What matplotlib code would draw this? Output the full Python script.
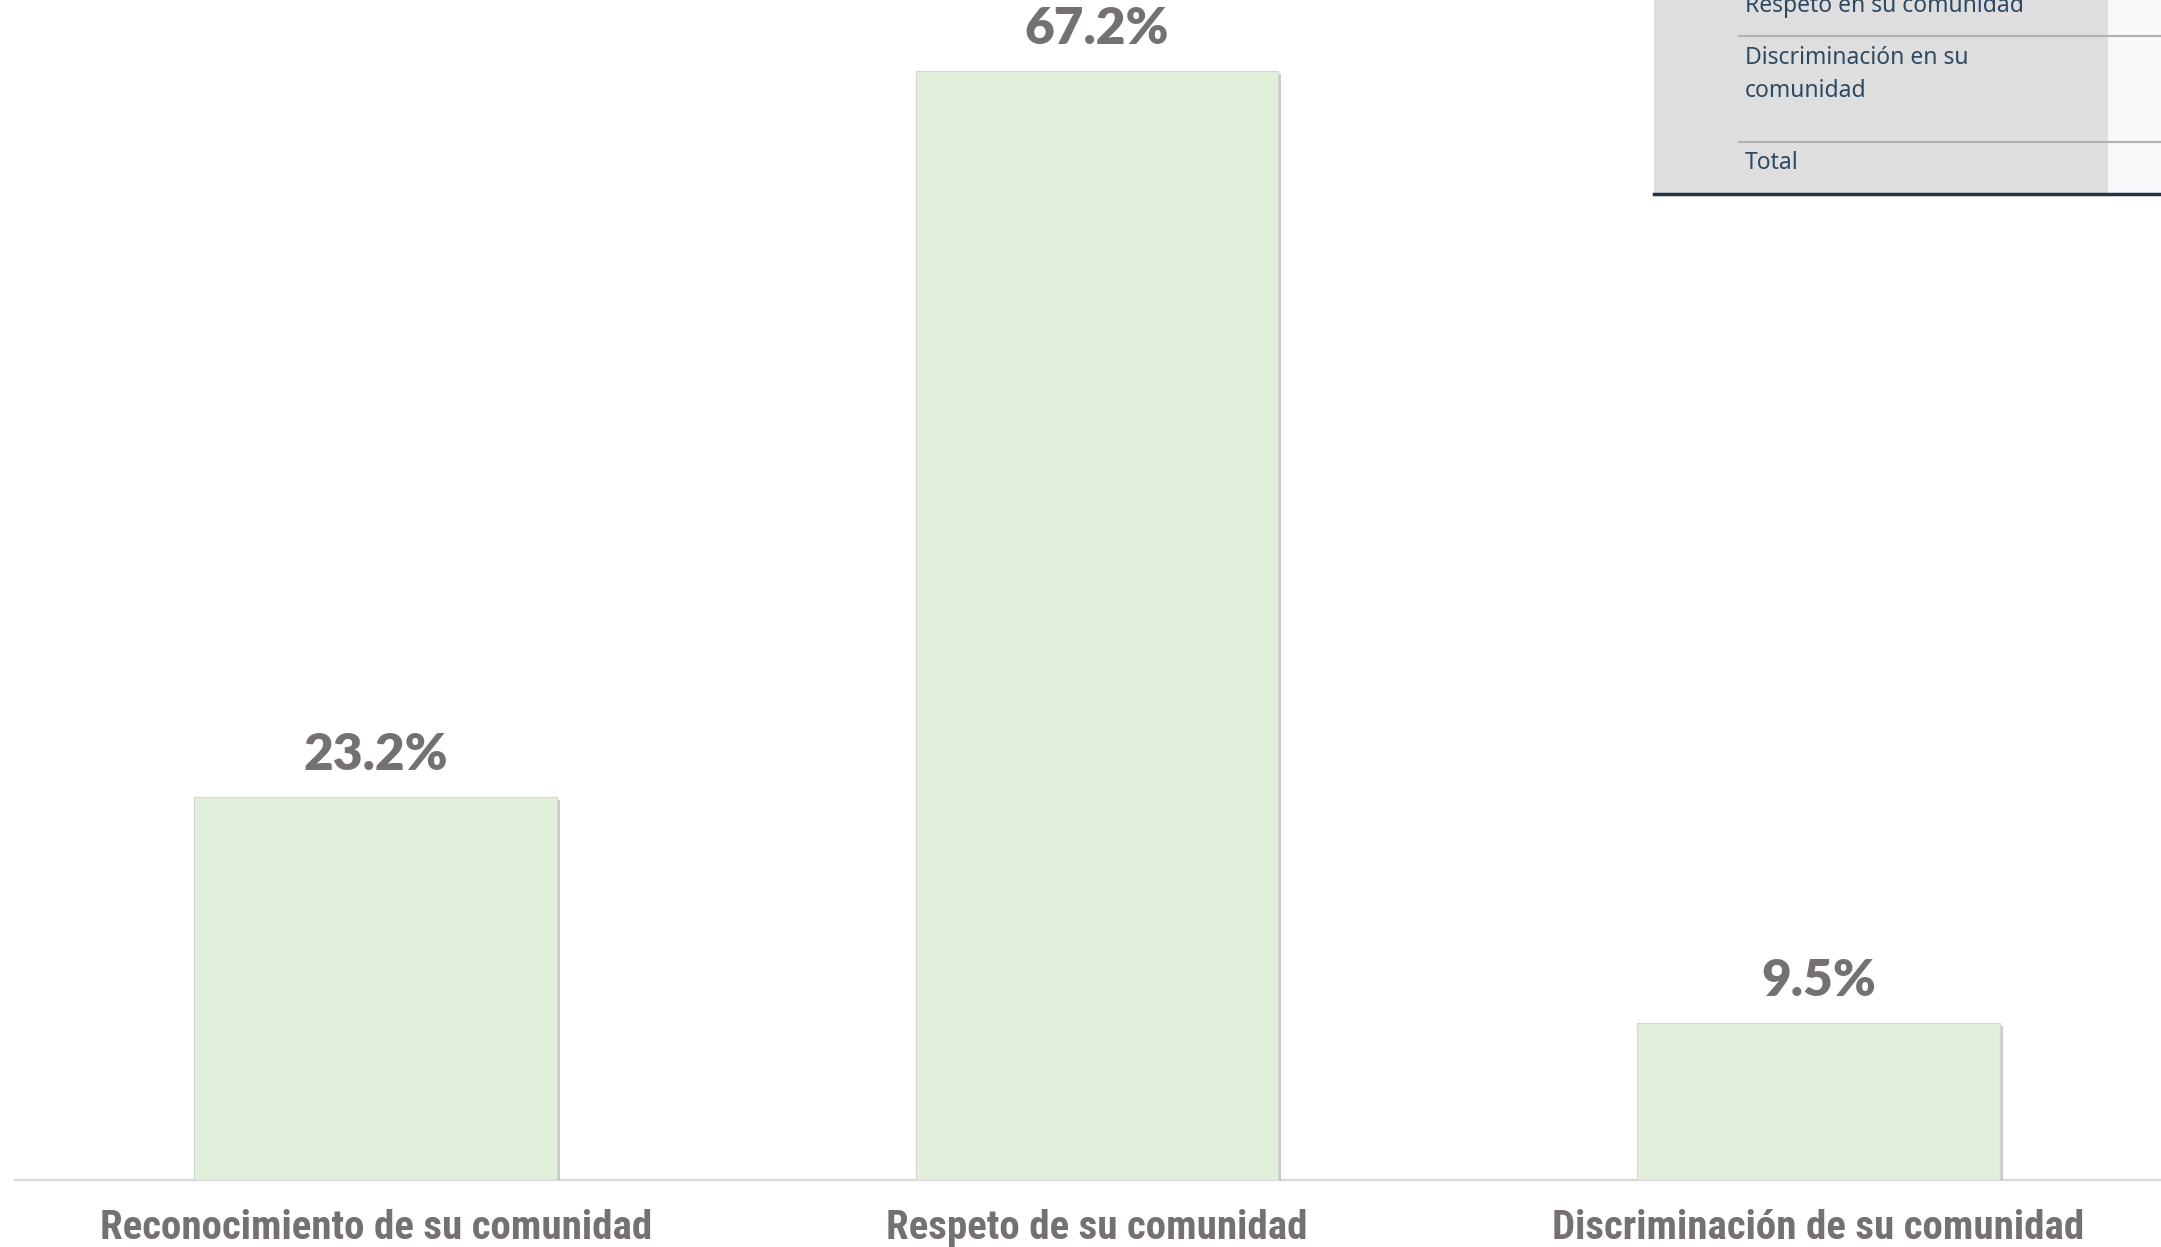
import matplotlib
matplotlib.use("Agg")
import matplotlib.pyplot as plt
from matplotlib.patches import Rectangle
from matplotlib.lines import Line2D
import matplotlib.patheffects as pe

categories = ["Reconocimiento de su comunidad", "Respeto de su comunidad", "Discriminación de su comunidad"]
values = [23.2, 67.2, 9.5]
value_labels = ["23.2%", "67.2%", "9.5%"]
table_rows = ["Respeto en su comunidad", "Discriminación en su\ncomunidad", "Total"]

W, H = 2161, 1247
DPI = 100
fig = plt.figure(figsize=(W / DPI, H / DPI), dpi=DPI)
fig.patch.set_facecolor("white")

def fx(px):
    return px / W

def fy(py):
    return 1 - py / H

base_y = 1180
ax = fig.add_axes([fx(15), fy(base_y), 1 - fx(15), base_y / H])
ax.set_facecolor("none")
ax.set_xlim(-0.5, 2.475)
ax.set_ylim(0, base_y / 16.5)

bar_color = "#E2EFDA"
text_gray = "#767171"
x = list(range(len(categories)))
bars = ax.bar(x, values, width=0.503, color=bar_color, edgecolor="#d4d4d4", linewidth=0.8, zorder=3)
for b in bars:
    b.set_path_effects([pe.withSimplePatchShadow(offset=(2, -2), shadow_rgbFace="#8a8a8a", alpha=0.45)])

for xi, v, lab in zip(x, values, value_labels):
    ax.annotate(lab, (xi, v), xytext=(0, 14), textcoords="offset points",
                ha="center", va="bottom", fontsize=37, fontweight=800,
                color=text_gray, family=["Lato", "DejaVu Sans"])

for s in ["top", "right", "left"]:
    ax.spines[s].set_visible(False)
ax.spines["bottom"].set_color("#D9D9D9")
ax.spines["bottom"].set_linewidth(1.6)
ax.spines["bottom"].set_zorder(1)
ax.set_yticks([])
ax.set_xticks(x)
ax.set_xticklabels(categories, fontsize=29.5, fontweight="bold", color=text_gray,
                   family=["Roboto Condensed", "DejaVu Sans"], fontstretch="condensed")
ax.tick_params(axis="x", length=0, pad=21)

# Table fragment (top-right)
fig.add_artist(Rectangle((fx(1654), fy(194)), fx(2108) - fx(1654), 1 - fy(194) + 0.01,
                         transform=fig.transFigure, facecolor="#DEDEDE", edgecolor="none", zorder=5))
fig.add_artist(Rectangle((fx(2108), fy(194)), 1 - fx(2108), 1 - fy(194) + 0.01,
                         transform=fig.transFigure, facecolor="#F7F8FA", edgecolor="none", zorder=5))
for py in [36, 142]:
    fig.add_artist(Line2D([fx(1739), 1], [fy(py), fy(py)], transform=fig.transFigure,
                          color="#B0B0B0", linewidth=1.5, zorder=6))
fig.add_artist(Line2D([fx(1654), 1], [fy(194), fy(194)], transform=fig.transFigure,
                      color="#1F3547", linewidth=2.5, zorder=6))
tcol = "#2E4A62"
tfont = ["Noto Sans", "DejaVu Sans"]
fig.text(fx(1745), fy(12), table_rows[0], fontsize=16.5, color=tcol, va="baseline", ha="left", family=tfont, zorder=7)
fig.text(fx(1745), fy(46), table_rows[1], fontsize=16.5, color=tcol, va="top", ha="left", family=tfont,
         linespacing=1.5, zorder=7)
fig.text(fx(1745), fy(163), table_rows[2], fontsize=16.5, color=tcol, va="center", ha="left", family=tfont, zorder=7)

fig.savefig("out.png", dpi=DPI)
